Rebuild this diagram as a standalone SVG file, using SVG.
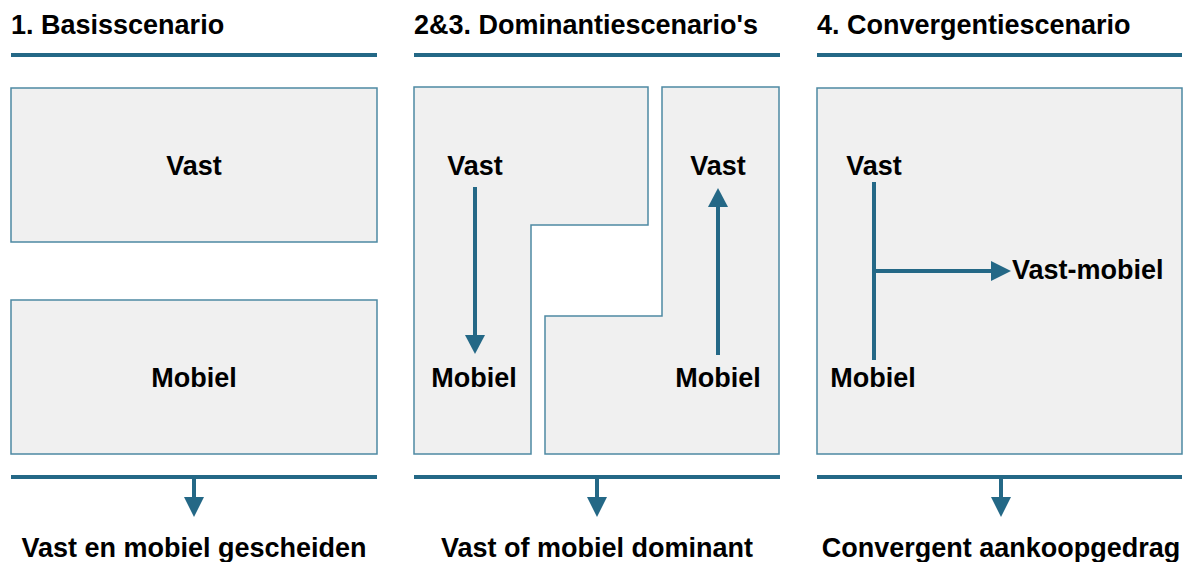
<svg xmlns="http://www.w3.org/2000/svg" width="1186" height="562" viewBox="0 0 1186 562">
  <style>
    .bg { fill: #ffffff; }
    .rule { stroke: #246886; stroke-width: 4; fill: none; }
    .box { fill: #f0f0f0; stroke: #4d89a3; stroke-width: 1.5; }
    .stem { stroke: #246886; stroke-width: 4; fill: none; }
    .head { fill: #246886; }
    .title { font-family: "Liberation Sans", Arial, sans-serif; font-weight: bold; font-size: 27px; fill: #000; }
    .label { font-family: "Liberation Sans", Arial, sans-serif; font-weight: bold; font-size: 27px; fill: #000; text-anchor: middle; }
  </style>
  <rect class="bg" x="0" y="0" width="1186" height="562"/>

  <!-- column headers -->
  <g id="headers">
    <text class="title" x="11" y="34">1. Basisscenario</text>
    <text class="title" x="414" y="34">2&amp;3. Dominantiescenario's</text>
    <text class="title" x="817" y="34">4. Convergentiescenario</text>
    <line class="rule" x1="11" y1="55" x2="377" y2="55"/>
    <line class="rule" x1="414" y1="55" x2="780" y2="55"/>
    <line class="rule" x1="817" y1="55" x2="1182" y2="55"/>
  </g>

  <!-- scenario 1: separate blocks -->
  <g id="basis-vast">
    <rect class="box" x="11" y="88" width="366" height="154"/>
    <text class="label" x="194" y="175">Vast</text>
  </g>
  <g id="basis-mobiel">
    <rect class="box" x="11" y="300" width="366" height="154"/>
    <text class="label" x="194" y="387">Mobiel</text>
  </g>

  <!-- scenario 2&3: interlocking shapes -->
  <g id="dominant-vast">
    <path class="box" d="M414,87 H648 V225 H531 V454 H414 Z"/>
    <text class="label" x="475" y="175">Vast</text>
    <text class="label" x="474" y="387">Mobiel</text>
  </g>
  <g id="dominant-mobiel">
    <path class="box" d="M662,87 H779 V454 H545 V316 H662 Z"/>
    <text class="label" x="718" y="175">Vast</text>
    <text class="label" x="718" y="387">Mobiel</text>
  </g>

  <!-- scenario 4: convergence -->
  <g id="convergent">
    <rect class="box" x="817" y="88" width="365" height="366"/>
    <text class="label" x="874" y="175">Vast</text>
    <text class="label" x="873" y="387">Mobiel</text>
    <text class="title" x="1012" y="279">Vast-mobiel</text>
  </g>

  <!-- bottom rules and outcomes -->
  <g id="outcome-1">
    <line class="rule" x1="11" y1="477" x2="377" y2="477"/>
    <text class="label" x="194" y="557">Vast en mobiel gescheiden</text>
  </g>
  <g id="outcome-2">
    <line class="rule" x1="414" y1="477" x2="780" y2="477"/>
    <text class="label" x="597" y="557">Vast of mobiel dominant</text>
  </g>
  <g id="outcome-3">
    <line class="rule" x1="817" y1="477" x2="1182" y2="477"/>
    <text class="label" x="1001" y="557">Convergent aankoopgedrag</text>
  </g>

  <!-- connectors -->
  <g id="connectors">
    <!-- downward outcome arrows -->
    <line class="stem" x1="194" y1="477" x2="194" y2="499"/>
    <polygon class="head" points="184,497 204,497 194,517"/>
    <line class="stem" x1="597" y1="477" x2="597" y2="499"/>
    <polygon class="head" points="587,497 607,497 597,517"/>
    <line class="stem" x1="1001" y1="477" x2="1001" y2="499"/>
    <polygon class="head" points="991,497 1011,497 1001,517"/>

    <!-- vast to mobiel -->
    <line class="stem" x1="475" y1="187" x2="475" y2="337"/>
    <polygon class="head" points="465,335 485,335 475,354"/>
    <!-- mobiel to vast -->
    <line class="stem" x1="718" y1="355" x2="718" y2="205"/>
    <polygon class="head" points="708,207 728,207 718,188"/>
    <!-- convergence branch -->
    <line class="stem" x1="874" y1="182" x2="874" y2="360"/>
    <line class="stem" x1="874" y1="271" x2="993" y2="271"/>
    <polygon class="head" points="991,261 991,281 1011,271"/>
  </g>
</svg>
